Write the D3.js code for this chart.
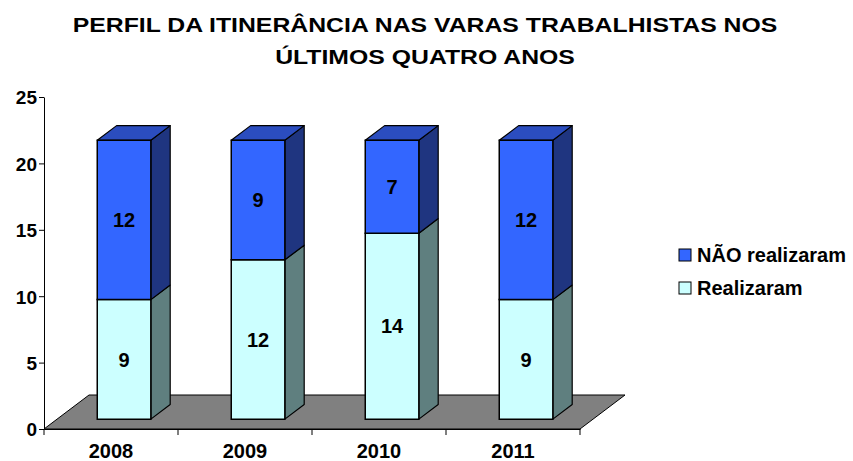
<!DOCTYPE html>
<html>
<head>
<meta charset="utf-8"/>
<script src="https://cdn.jsdelivr.net/npm/d3@7"></script>
<style>
  body { margin: 0; background: #fff; }
  text { font-family: "Liberation Sans", Arial, sans-serif; font-weight: bold; }
</style>
</head>
<body>
<svg id="chart" width="853" height="461"></svg>
<script>
// data
var years = ["2008", "2009", "2010", "2011"];
var realizaram = [9, 12, 14, 9];
var naoRealizaram = [12, 9, 7, 12];
var yTicks = [0, 5, 10, 15, 20, 25];
var titleLines = ["PERFIL DA ITINERÂNCIA NAS VARAS TRABALHISTAS NOS", "ÚLTIMOS QUATRO ANOS"];

var svg = d3.select("#chart");

var x = d3.scaleBand().domain(years).range([44, 580]).paddingInner(0).paddingOuter(0);
var y = d3.scaleLinear().domain([0, 25]).range([429, 97]);

// 3d depth: full floor depth and where the bars sit inside it
var depth = { dx: 45, dy: -34 };
var front = 0.29, bar = 0.43;
var barW = x.bandwidth() * 0.4;

function pt(px, py, d) { return [px + depth.dx * d, py + depth.dy * d]; }
function poly(points) { return points.map(function(p) { return p.join(","); }).join(" "); }

// title (the original font is wider than Liberation, so stretch it a bit)
svg.selectAll(".title").data(titleLines).enter().append("text")
    .attr("class", "title")
    .attr("transform", function(d, i) { return "translate(425," + (32 + i * 32) + ") scale(1.24,1)"; })
    .attr("text-anchor", "middle").attr("font-size", 20)
    .text(function(d) { return d; });

// floor
var fl = [pt(44, y(0), 0), pt(580, y(0), 0), pt(580, y(0), 1), pt(44, y(0), 1)];
svg.append("polygon").attr("points", poly(fl))
    .attr("fill", "#808080").attr("stroke", "#000").attr("stroke-width", 1);

// axes
var yAxis = svg.append("g").attr("transform", "translate(44,0)")
    .call(d3.axisLeft(y).tickValues(yTicks).tickSize(5).tickSizeOuter(0));
yAxis.select(".domain").attr("stroke", "#000");
yAxis.selectAll("text").attr("font-size", 19).attr("fill", "#000").attr("x", -7).attr("dy", "0.36em");

var xAxis = svg.append("g").attr("transform", "translate(0," + y(0) + ")")
    .call(d3.axisBottom(x).tickSize(0).tickSizeOuter(0));
xAxis.select(".domain").attr("stroke", "#000");
xAxis.selectAll("text").attr("font-size", 20).attr("fill", "#000").attr("y", 29).attr("dy", 0);
// boundary ticks between categories
svg.append("g").selectAll("line").data(years.concat(["end"])).enter().append("line")
    .attr("x1", function(d, i) { return 44 + i * x.bandwidth(); })
    .attr("x2", function(d, i) { return 44 + i * x.bandwidth(); })
    .attr("y1", y(0)).attr("y2", y(0) + 6).attr("stroke", "#000");

// stacked 3d bars
var series = [
  { name: "Realizaram", values: realizaram, face: "#CCFFFF", side: "#5F7F7F", top: "#99CCCC" },
  { name: "NÃO realizaram", values: naoRealizaram, face: "#3366FF", side: "#1F3580", top: "#2B4DBF" }
];

var bars = svg.append("g");
years.forEach(function(yr, i) {
  var x0 = x(yr) + (x.bandwidth() - barW) / 2;
  var x1 = x0 + barW;
  var base = 0;
  series.forEach(function(s, si) {
    var v = s.values[i];
    var yb = y(base), yt = y(base + v);
    var isTop = si === series.length - 1;
    var g = bars.append("g");
    // side face
    g.append("polygon").attr("points", poly([pt(x1, yb, front), pt(x1, yb, front + bar), pt(x1, yt, front + bar), pt(x1, yt, front)]))
        .attr("fill", s.side).attr("stroke", "#000").attr("stroke-width", 1.2).attr("stroke-linejoin", "round");
    if (isTop) {
      g.append("polygon").attr("points", poly([pt(x0, yt, front), pt(x1, yt, front), pt(x1, yt, front + bar), pt(x0, yt, front + bar)]))
          .attr("fill", s.top).attr("stroke", "#000").attr("stroke-width", 1.2).attr("stroke-linejoin", "round");
    }
    // front face
    g.append("polygon").attr("points", poly([pt(x0, yb, front), pt(x1, yb, front), pt(x1, yt, front), pt(x0, yt, front)]))
        .attr("fill", s.face).attr("stroke", "#000").attr("stroke-width", 1.5);
    var c = pt((x0 + x1) / 2, (yb + yt) / 2, front);
    g.append("text").attr("x", c[0]).attr("y", c[1]).attr("dy", "0.36em")
        .attr("text-anchor", "middle").attr("font-size", 20).attr("fill", "#000")
        .text(v);
    base += v;
  });
});

// legend
var legendItems = series.slice().reverse();
var lg = svg.append("g").selectAll("g").data(legendItems).enter().append("g")
    .attr("transform", function(d, i) { return "translate(679," + (255 + i * 33) + ")"; });
lg.append("rect").attr("x", 0).attr("y", -6).attr("width", 12).attr("height", 12)
    .attr("fill", function(d) { return d.face; }).attr("stroke", "#000").attr("stroke-width", 1);
lg.append("text").attr("x", 18).attr("y", 0).attr("dy", "0.36em")
    .attr("font-size", 20).attr("fill", "#000")
    .text(function(d) { return d.name; });
</script>
</body>
</html>
